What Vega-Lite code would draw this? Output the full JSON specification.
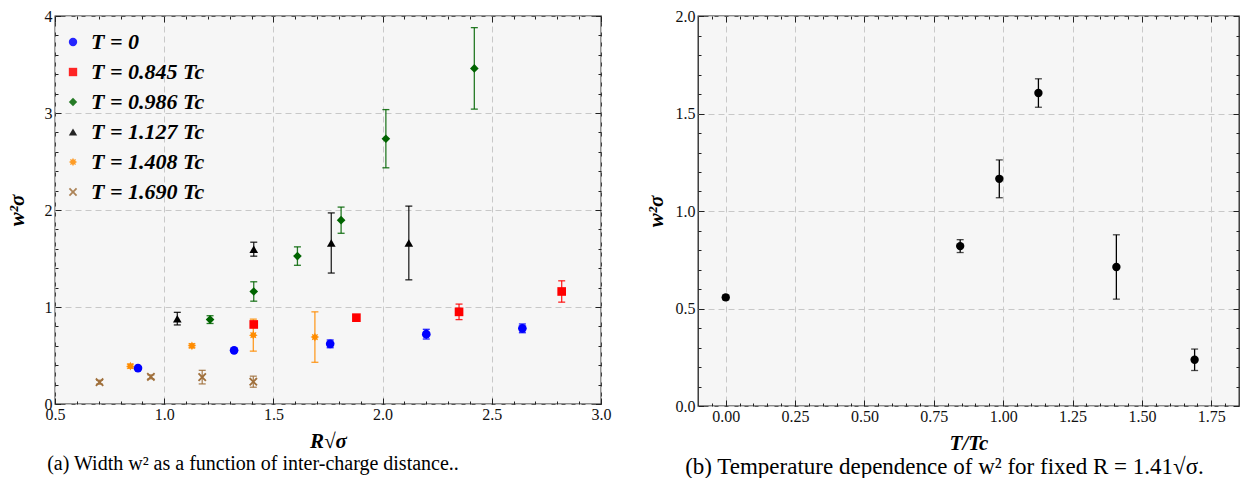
{
  "$schema": "https://vega.github.io/schema/vega-lite/v6.json",
  "padding": {"left": 5, "top": 7, "right": 0, "bottom": 0},
  "background": "white",
  "config": {
    "font": "Liberation Serif",
    "view": {"fill": "#f6f6f6", "stroke": "#222222", "strokeWidth": 1.3},
    "axis": {
      "domain": false,
      "labelFont": "Liberation Serif",
      "labelFontSize": 16,
      "labelColor": "#111111",
      "tickColor": "#222222",
      "tickWidth": 1,
      "gridColor": "#c8c8c8",
      "gridDash": [6, 4],
      "gridWidth": 1,
      "titleFont": "Liberation Serif",
      "titleFontSize": 21,
      "titleFontWeight": "bold",
      "titleFontStyle": "italic",
      "titleColor": "#000000",
      "labelOverlap": false,
      "labelFlush": false
    },
    "legend": {
      "orient": "none", "legendX": 7, "legendY": 15,
      "labelFont": "Liberation Serif", "labelFontSize": 22, "labelFontWeight": "bold", "labelFontStyle": "italic",
      "labelColor": "#000000", "rowPadding": 8, "symbolSize": 70, "labelOffset": 7, "padding": 0, "symbolStrokeWidth": 0
    },
    "title": {"font": "Liberation Serif", "fontSize": 20, "fontWeight": "normal", "color": "#000000"},
    "concat": {"spacing": 32}
  },
  "datasets": {
    "left": [
      {"T": "T = 0", "R": 0.88, "w": 0.37, "err": 0.015},
      {"T": "T = 0", "R": 1.32, "w": 0.553, "err": 0.012},
      {"T": "T = 0", "R": 1.76, "w": 0.62, "err": 0.04},
      {"T": "T = 0", "R": 2.2, "w": 0.72, "err": 0.05},
      {"T": "T = 0", "R": 2.64, "w": 0.78, "err": 0.045},
      {"T": "T = 0.845 Tc", "R": 1.41, "w": 0.82, "err": 0.03},
      {"T": "T = 0.845 Tc", "R": 1.88, "w": 0.89, "err": 0.025},
      {"T": "T = 0.845 Tc", "R": 2.35, "w": 0.95, "err": 0.08},
      {"T": "T = 0.845 Tc", "R": 2.82, "w": 1.16, "err": 0.11},
      {"T": "T = 0.986 Tc", "R": 1.21, "w": 0.87, "err": 0.04},
      {"T": "T = 0.986 Tc", "R": 1.41, "w": 1.16, "err": 0.1},
      {"T": "T = 0.986 Tc", "R": 1.61, "w": 1.525, "err": 0.095},
      {"T": "T = 0.986 Tc", "R": 1.81, "w": 1.895, "err": 0.135},
      {"T": "T = 0.986 Tc", "R": 2.015, "w": 2.735, "err": 0.3},
      {"T": "T = 0.986 Tc", "R": 2.42, "w": 3.46, "err": 0.42},
      {"T": "T = 1.127 Tc", "R": 1.06, "w": 0.88, "err": 0.065},
      {"T": "T = 1.127 Tc", "R": 1.41, "w": 1.596, "err": 0.072},
      {"T": "T = 1.127 Tc", "R": 1.765, "w": 1.66, "err": 0.31},
      {"T": "T = 1.127 Tc", "R": 2.12, "w": 1.66, "err": 0.38},
      {"T": "T = 1.408 Tc", "R": 0.845, "w": 0.39, "err": 0.02},
      {"T": "T = 1.408 Tc", "R": 1.127, "w": 0.6, "err": 0.02},
      {"T": "T = 1.408 Tc", "R": 1.408, "w": 0.71, "err": 0.165},
      {"T": "T = 1.408 Tc", "R": 1.69, "w": 0.69, "err": 0.26},
      {"T": "T = 1.690 Tc", "R": 0.704, "w": 0.225, "err": 0.02},
      {"T": "T = 1.690 Tc", "R": 0.939, "w": 0.28, "err": 0.02},
      {"T": "T = 1.690 Tc", "R": 1.174, "w": 0.277, "err": 0.07},
      {"T": "T = 1.690 Tc", "R": 1.408, "w": 0.23, "err": 0.057}
    ],
    "right": [
      {"TTc": 0.0, "w": 0.557, "err": 0.012},
      {"TTc": 0.845, "w": 0.82, "err": 0.033},
      {"TTc": 0.986, "w": 1.165, "err": 0.097},
      {"TTc": 1.127, "w": 1.605, "err": 0.073},
      {"TTc": 1.408, "w": 0.713, "err": 0.165},
      {"TTc": 1.69, "w": 0.237, "err": 0.055}
    ]
  },
  "hconcat": [
    {
      "width": 546,
      "height": 388,
      "title": {"text": "(a) Width w² as a function of inter-charge distance..", "orient": "bottom", "anchor": "middle", "dx": -75, "offset": 3},
      "data": {"name": "left"},
      "layer": [
        {
          "mark": {"type": "errorbar", "ticks": {"size": 7}, "thickness": 1.3, "opacity": 0.85},
          "encoding": {
            "x": {
              "field": "R", "type": "quantitative",
              "scale": {"domain": [0.5, 3.0], "nice": false, "zero": false},
              "axis": {
                "orient": "bottom", "title": "R√σ",
                "values": [0.5, 0.6, 0.7, 0.8, 0.9, 1.0, 1.1, 1.2, 1.3, 1.4, 1.5, 1.6, 1.7, 1.8, 1.9, 2.0, 2.1, 2.2, 2.3, 2.4, 2.5, 2.6, 2.7, 2.8, 2.9, 3.0],
                "labelExpr": "abs(datum.value*2 - round(datum.value*2)) < 0.001 ? format(datum.value, '.1f') : ''",
                "tickSize": {"condition": {"test": "abs(datum.value*2 - round(datum.value*2)) < 0.001", "value": -6}, "value": -3},
                "grid": true,
                "gridOpacity": {"condition": {"test": "abs(datum.value*2 - round(datum.value*2)) < 0.001", "value": 1}, "value": 0},
                "labelPadding": 8,
                "titlePadding": 5
              }
            },
            "y": {
              "field": "w", "type": "quantitative",
              "scale": {"domain": [0, 4], "nice": false, "zero": false},
              "axis": {
                "orient": "left", "title": "w²σ",
                "values": [0, 0.2, 0.4, 0.6, 0.8, 1.0, 1.2, 1.4, 1.6, 1.8, 2.0, 2.2, 2.4, 2.6, 2.8, 3.0, 3.2, 3.4, 3.6, 3.8, 4.0],
                "labelExpr": "abs(datum.value - round(datum.value)) < 0.001 ? format(datum.value, 'd') : ''",
                "tickSize": {"condition": {"test": "abs(datum.value - round(datum.value)) < 0.001", "value": -6}, "value": -3},
                "grid": true,
                "gridOpacity": {"condition": {"test": "abs(datum.value - round(datum.value)) < 0.001", "value": 1}, "value": 0},
                "labelPadding": 9,
                "titlePadding": 17
              }
            },
            "yError": {"field": "err"},
            "color": {
              "field": "T", "type": "nominal", "title": null,
              "scale": {
                "domain": ["T = 0", "T = 0.845 Tc", "T = 0.986 Tc", "T = 1.127 Tc", "T = 1.408 Tc", "T = 1.690 Tc"],
                "range": ["#0000ff", "#ff0000", "#006400", "#000000", "#ff8c00", "#a0703c"]
              }
            }
          }
        },
        {
          "mark": {"type": "point", "filled": true, "opacity": 1, "size": 75},
          "encoding": {
            "x": {
              "field": "R", "type": "quantitative",
              "axis": {
                "orient": "top", "title": null, "labels": false, "grid": false,
                "values": [0.5, 0.6, 0.7, 0.8, 0.9, 1.0, 1.1, 1.2, 1.3, 1.4, 1.5, 1.6, 1.7, 1.8, 1.9, 2.0, 2.1, 2.2, 2.3, 2.4, 2.5, 2.6, 2.7, 2.8, 2.9, 3.0],
                "tickSize": {"condition": {"test": "abs(datum.value*2 - round(datum.value*2)) < 0.001", "value": -6}, "value": -3}
              }
            },
            "y": {
              "field": "w", "type": "quantitative",
              "axis": {
                "orient": "right", "title": null, "labels": false, "grid": false,
                "values": [0, 0.2, 0.4, 0.6, 0.8, 1.0, 1.2, 1.4, 1.6, 1.8, 2.0, 2.2, 2.4, 2.6, 2.8, 3.0, 3.2, 3.4, 3.6, 3.8, 4.0],
                "tickSize": {"condition": {"test": "abs(datum.value - round(datum.value)) < 0.001", "value": -6}, "value": -3}
              }
            },
            "color": {"field": "T", "type": "nominal", "title": null},
            "shape": {
              "field": "T", "type": "nominal", "title": null,
              "scale": {
                "domain": ["T = 0", "T = 0.845 Tc", "T = 0.986 Tc", "T = 1.127 Tc", "T = 1.408 Tc", "T = 1.690 Tc"],
                "range": [
                  "circle", "square", "diamond", "triangle-up",
                  "M0,-1L0.23,-0.55L0.71,-0.71L0.55,-0.23L1,0L0.55,0.23L0.71,0.71L0.23,0.55L0,1L-0.23,0.55L-0.71,0.71L-0.55,0.23L-1,0L-0.55,-0.23L-0.71,-0.71L-0.23,-0.55Z",
                  "M-1,-0.7L-0.7,-1L0,-0.3L0.7,-1L1,-0.7L0.3,0L1,0.7L0.7,1L0,0.3L-0.7,1L-1,0.7L-0.3,0Z"
                ]
              }
            }
          }
        }
      ],
      "resolve": {"axis": {"x": "independent", "y": "independent"}}
    },
    {
      "width": 541,
      "height": 390,
      "title": {"text": "(b) Temperature dependence of w² for fixed R = 1.41√σ.", "orient": "bottom", "anchor": "middle", "dx": -24, "offset": 3, "fontSize": 23},
      "data": {"name": "right"},
      "layer": [
        {
          "mark": {"type": "errorbar", "ticks": {"size": 7}, "thickness": 1.3, "color": "#000000"},
          "encoding": {
            "x": {
              "field": "TTc", "type": "quantitative",
              "scale": {"domain": [-0.1, 1.85], "nice": false, "zero": false},
              "axis": {
                "orient": "bottom", "title": "T/Tc",
                "values": [-0.05, 0, 0.05, 0.1, 0.15, 0.2, 0.25, 0.3, 0.35, 0.4, 0.45, 0.5, 0.55, 0.6, 0.65, 0.7, 0.75, 0.8, 0.85, 0.9, 0.95, 1.0, 1.05, 1.1, 1.15, 1.2, 1.25, 1.3, 1.35, 1.4, 1.45, 1.5, 1.55, 1.6, 1.65, 1.7, 1.75, 1.8],
                "labelExpr": "abs(datum.value*4 - round(datum.value*4)) < 0.001 ? format(datum.value, '.2f') : ''",
                "tickSize": {"condition": {"test": "abs(datum.value*4 - round(datum.value*4)) < 0.001", "value": -6}, "value": -3},
                "grid": true,
                "gridOpacity": {"condition": {"test": "abs(datum.value*4 - round(datum.value*4)) < 0.001", "value": 1}, "value": 0},
                "labelPadding": 8,
                "titlePadding": 5
              }
            },
            "y": {
              "field": "w", "type": "quantitative",
              "scale": {"domain": [0, 2], "nice": false, "zero": false},
              "axis": {
                "orient": "left", "title": "w²σ",
                "values": [0, 0.1, 0.2, 0.3, 0.4, 0.5, 0.6, 0.7, 0.8, 0.9, 1.0, 1.1, 1.2, 1.3, 1.4, 1.5, 1.6, 1.7, 1.8, 1.9, 2.0],
                "labelExpr": "abs(datum.value*2 - round(datum.value*2)) < 0.001 ? format(datum.value, '.1f') : ''",
                "tickSize": {"condition": {"test": "abs(datum.value*2 - round(datum.value*2)) < 0.001", "value": -6}, "value": -3},
                "grid": true,
                "gridOpacity": {"condition": {"test": "abs(datum.value*2 - round(datum.value*2)) < 0.001", "value": 1}, "value": 0},
                "labelPadding": 9,
                "titlePadding": 9
              }
            },
            "yError": {"field": "err"}
          }
        },
        {
          "mark": {"type": "point", "filled": true, "opacity": 1, "size": 70, "color": "#000000", "shape": "circle"},
          "encoding": {
            "x": {
              "field": "TTc", "type": "quantitative",
              "axis": {
                "orient": "top", "title": null, "labels": false, "grid": false,
                "values": [-0.05, 0, 0.05, 0.1, 0.15, 0.2, 0.25, 0.3, 0.35, 0.4, 0.45, 0.5, 0.55, 0.6, 0.65, 0.7, 0.75, 0.8, 0.85, 0.9, 0.95, 1.0, 1.05, 1.1, 1.15, 1.2, 1.25, 1.3, 1.35, 1.4, 1.45, 1.5, 1.55, 1.6, 1.65, 1.7, 1.75, 1.8],
                "tickSize": {"condition": {"test": "abs(datum.value*4 - round(datum.value*4)) < 0.001", "value": -6}, "value": -3}
              }
            },
            "y": {
              "field": "w", "type": "quantitative",
              "axis": {
                "orient": "right", "title": null, "labels": false, "grid": false,
                "values": [0, 0.1, 0.2, 0.3, 0.4, 0.5, 0.6, 0.7, 0.8, 0.9, 1.0, 1.1, 1.2, 1.3, 1.4, 1.5, 1.6, 1.7, 1.8, 1.9, 2.0],
                "tickSize": {"condition": {"test": "abs(datum.value*2 - round(datum.value*2)) < 0.001", "value": -6}, "value": -3}
              }
            }
          }
        }
      ],
      "resolve": {"axis": {"x": "independent", "y": "independent"}}
    }
  ]
}
